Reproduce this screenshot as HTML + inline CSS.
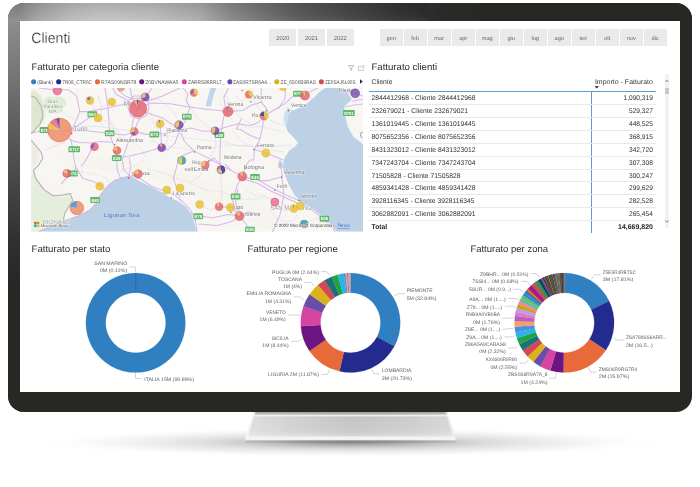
<!DOCTYPE html>
<html><head><meta charset="utf-8"><title>Clienti</title>
<style>
html,body{margin:0;padding:0;background:#fff;}
body{width:700px;height:487px;position:relative;overflow:hidden;font-family:"Liberation Sans",sans-serif;text-rendering:geometricPrecision;}
.abs{position:absolute;}
.t{position:absolute;white-space:nowrap;line-height:normal;}
svg text{font-family:"Liberation Sans",sans-serif;text-rendering:geometricPrecision;}
#bezel{position:absolute;left:7.5px;top:3px;width:684.7px;height:408.5px;border-radius:16px;background:#272724;overflow:hidden;}
#bezel .gl{position:absolute;left:0;top:0;width:14px;height:100%;
 background:linear-gradient(180deg,#8e8e8e 0px,#8e8e8e 17px,#7c7c7c 57px,#6a6a6a 97px,#545454 147px,#404040 197px,#303030 237px,#272724 280px);}
#bezel .gt{position:absolute;left:0;top:0;width:100%;height:19px;
 background:linear-gradient(90deg,#8e8e8e 0px,#8e8e8e 11px,#9a9a9a 20px,#a9a9a9 32px,#bcbdbc 62px,#c5c6c5 92px,#c0c1c0 142px,#adadad 192px,#8c8c8c 222px,#707070 262px,#5c5c5c 292px,#484846 342px,#353533 392px,#2a2a28 432px,#272724 472px);
}
#bezel .gv{position:absolute;left:0;top:0;width:420px;height:19px;background:linear-gradient(180deg,rgba(0,0,0,0.13) 0%,rgba(0,0,0,0.04) 60%,rgba(255,255,255,0.04) 100%);}
#screen{position:absolute;left:20px;top:21px;width:659.5px;height:370.5px;background:#fff;}
.btn{position:absolute;top:28.6px;height:17.3px;background:#eaeaea;}
.hl{position:absolute;height:0.6px;background:#e9e9e9;}
</style></head><body><div id="wrap" style="position:absolute;left:0;top:0;width:700px;height:487px;will-change:transform;">

<svg class="abs" style="left:0;top:405px" width="700" height="82" viewBox="0 405 700 82">
<defs>
<radialGradient id="sh" cx="0.5" cy="0.5" r="0.5"><stop offset="0" stop-color="#6a6a6a" stop-opacity="0.8"/><stop offset="0.2" stop-color="#808080" stop-opacity="0.58"/><stop offset="0.45" stop-color="#a0a0a0" stop-opacity="0.36"/><stop offset="0.75" stop-color="#c0c0c0" stop-opacity="0.16"/><stop offset="1" stop-color="#fff" stop-opacity="0"/></radialGradient>
<linearGradient id="nk" x1="0" x2="1" y1="0" y2="0"><stop offset="0" stop-color="#dedede"/><stop offset="0.2" stop-color="#d2d2d2"/><stop offset="0.5" stop-color="#c4c4c4"/><stop offset="0.8" stop-color="#cdcdcd"/><stop offset="1" stop-color="#d8d8d8"/></linearGradient>
<linearGradient id="nv" x1="0" x2="0" y1="0" y2="1"><stop offset="0" stop-color="#7a7a7a" stop-opacity="0.85"/><stop offset="0.12" stop-color="#a8a8a8" stop-opacity="0.5"/><stop offset="0.17" stop-color="#ffffff" stop-opacity="0.75"/><stop offset="0.24" stop-color="#ffffff" stop-opacity="0"/><stop offset="0.8" stop-color="#fff" stop-opacity="0.1"/><stop offset="1" stop-color="#fff" stop-opacity="0.35"/></linearGradient>
<linearGradient id="ud" x1="0" x2="1" y1="0" y2="0"><stop offset="0" stop-color="#bdbdbd"/><stop offset="0.3" stop-color="#949494"/><stop offset="0.5" stop-color="#868686"/><stop offset="0.7" stop-color="#949494"/><stop offset="1" stop-color="#bdbdbd"/></linearGradient>
</defs>
<ellipse cx="350" cy="442.5" rx="315" ry="15" fill="url(#sh)"/>
<path d="M254 411 L447 411 L455 436.6 L246 436.6Z" fill="url(#nk)"/>
<path d="M254 411 L447 411 L455 436.6 L246 436.6Z" fill="url(#nv)"/>
<path d="M254 411 L255.6 411 L248 436.6 L246 436.6Z" fill="#f6f6f6"/>
<path d="M447 411 L445.4 411 L453 436.6 L455 436.6Z" fill="#f0f0f0"/>
<rect x="245.4" y="440" width="210.2" height="3" fill="url(#ud)"/>
<rect x="245.4" y="436.4" width="210.2" height="3.9" fill="#f3f3f3"/>
</svg>
<div id="bezel"><div class="gl"></div><div class="gt"></div><div class="gv"></div></div>
<div id="screen"></div>
<div class="btn" style="left:269.0px;width:27.4px"></div>
<div class="btn" style="left:297.8px;width:27.4px"></div>
<div class="btn" style="left:326.6px;width:27.4px"></div>
<div class="btn" style="left:379.8px;width:22.8px"></div>
<div class="btn" style="left:403.8px;width:22.8px"></div>
<div class="btn" style="left:427.8px;width:22.8px"></div>
<div class="btn" style="left:451.8px;width:22.8px"></div>
<div class="btn" style="left:475.8px;width:22.8px"></div>
<div class="btn" style="left:499.8px;width:22.8px"></div>
<div class="btn" style="left:523.8px;width:22.8px"></div>
<div class="btn" style="left:547.8px;width:22.8px"></div>
<div class="btn" style="left:571.8px;width:22.8px"></div>
<div class="btn" style="left:595.8px;width:22.8px"></div>
<div class="btn" style="left:619.8px;width:22.8px"></div>
<div class="btn" style="left:643.8px;width:22.8px"></div>
<svg class="abs" style="left:345px;top:63px" width="22" height="10" viewBox="345 63 22 10">
<path d="M348.4 65.5 L353.8 65.5 L351.7 68 L351.7 70.4 L350.6 69.9 L350.6 68Z" fill="none" stroke="#959595" stroke-width="0.55"/>
<path d="M361 66.3 L358.4 66.3 L358.4 70.5 L363.5 70.5 L363.5 68.7 M361.9 65.9 L363.9 65.9 L363.9 67.9 M363.8 66 L361 68.6" fill="none" stroke="#a4a4a4" stroke-width="0.55"/>
</svg>
<svg class="abs" style="left:30px;top:77px" width="336" height="10" viewBox="30 77 336 10">
<circle cx="33.6" cy="81.7" r="2.55" fill="#2f7fc1"/>
<text x="37.30" y="83.70" font-size="5.3" fill="#555" textLength="15.70" lengthAdjust="spacingAndGlyphs">(Blank)</text>
<circle cx="58.65" cy="81.7" r="2.55" fill="#232b8e"/>
<text x="62.30" y="83.70" font-size="5.3" fill="#555" textLength="29.70" lengthAdjust="spacingAndGlyphs">7R08_CTR6C</text>
<circle cx="97.5" cy="81.7" r="2.55" fill="#e8693a"/>
<text x="101.00" y="83.70" font-size="5.3" fill="#555" textLength="35.40" lengthAdjust="spacingAndGlyphs">R7AS09NSR78</text>
<circle cx="141.7" cy="81.7" r="2.55" fill="#6b1583"/>
<text x="145.20" y="83.70" font-size="5.3" fill="#555" textLength="33.40" lengthAdjust="spacingAndGlyphs">Z0BVNAWAA5</text>
<circle cx="184.3" cy="81.7" r="2.55" fill="#d5449f"/>
<text x="188.00" y="83.70" font-size="5.3" fill="#555" textLength="36.40" lengthAdjust="spacingAndGlyphs">ZARRS86RRL7_</text>
<circle cx="229.9" cy="81.7" r="2.55" fill="#6a4da8"/>
<text x="233.10" y="83.70" font-size="5.3" fill="#555" textLength="38.00" lengthAdjust="spacingAndGlyphs">ZAS0R7SR6A4...</text>
<circle cx="276.8" cy="81.7" r="2.55" fill="#dab21a"/>
<text x="280.50" y="83.70" font-size="5.3" fill="#555" textLength="35.40" lengthAdjust="spacingAndGlyphs">ZE_6S00B9RAS</text>
<circle cx="321.4" cy="81.7" r="2.55" fill="#d64752"/>
<text x="324.90" y="83.70" font-size="5.3" fill="#555" textLength="30.70" lengthAdjust="spacingAndGlyphs">ZE0SAJ6L90S</text>
<path d="M360 79.2 L362.8 81.45 L360 83.7Z" fill="#2a2a2a"/>
</svg>
<svg class="abs" style="left:31px;top:88px" width="332" height="143.5" viewBox="31 88 332 143.5" font-family="Liberation Sans, sans-serif">
<defs><filter id="bl" x="-10%" y="-10%" width="120%" height="120%"><feGaussianBlur stdDeviation="1.2"/></filter></defs>
<rect x="31" y="88" width="332" height="143.5" fill="#f8f6f3"/>
<g filter="url(#bl)">
<path d="M31 92 L34 90 L40 95 L45 108 L44 120 L38 128 L31 133Z" fill="#dde7d0"/>
<path d="M31 170 L34 170 L36 178 L44 190 L53 196 L70 193.5 L72.5 200 L68 207 L64.5 213 L63 221 L50 226 L37 231.5 L31 231.5Z" fill="#e5eddc"/>
<path d="M176 172 L184 176 L194 182 L201 189 L196 192 L186 186 L178 180Z" fill="#e4eed8"/>
<path d="M257 202 L263 205 L268 213 L268 219 L262 215 L258 209Z" fill="#dce9cc"/>
<path d="M60 150 L90 156 L120 160 L150 168 L172 170 L200 178 L228 190 L255 198 L275 214 L290 226 L270 231.5 L250 222 L226 212 L200 200 L176 186 L150 178 L120 172 L96 170 L70 164Z" fill="#f5f4ef"/>
<path d="M31 140 L40 150 L38 162 L33 168 L31 168Z" fill="#ecebe3"/>
</g>
<path d="M44.5 99 L48 96.5 L55 96.8 L61 96.5 L65.5 99.5 L66.5 104 L63.5 108 L62 112 L56 114 L49.5 113.2 L45.5 109 L43.8 104Z" fill="#e2ecd6"/>
<path d="M37 231.5 L51.4 225.6 L67.2 219.3 L78.2 215.4 L89.2 209.9 L95.4 203.6 L100.2 194.2 L106.5 186.3 L114.3 180 L122.2 176.9 L131.6 176.5 L140.4 181.6 L151.4 187.1 L162.4 192.6 L170.3 198.1 L178.2 201.2 L186 206.7 L191.5 213.8 L193.9 220.9 L196.2 231.5Z" fill="#bcd0e6"/>
<path d="M363 88 L325.3 88 L319.7 91.8 L314 97.4 L306.5 104 L299 108 L293.3 110.6 L288.5 113 L287 118 L285.7 125.7 L287.6 131.4 L293.3 137 L298 142.7 L295.2 146.5 L289.5 150.3 L285.7 155.9 L283.8 160 L282.9 167.4 L285.7 176.9 L289.5 186.3 L295.1 195.7 L300.8 201.4 L310.2 207 L319.6 214.6 L329 222.1 L336.6 231.5 L363 231.5Z" fill="#bcd0e6"/>
<path d="M287.6 107 L293.3 110.6 L289 114 L287.5 120 L286.5 126 L283.5 122 L284 114Z" fill="#cfe0ee"/>
<path d="M363 88 L342.5 88 L347 92 L351.8 99.3 L348 103 L344.2 106.9 L345.2 116.3 L348 127.6 L353.6 137 L361.2 142.7 L363 145Z" fill="#f8f6f3"/>
<path d="M210.5 88 L216.5 88 L214.2 94 L212.6 99 L211 106.5 L206.5 106.5 L205.6 104.5 L207.6 99 L209 93Z" fill="#c3d6e9"/>
<ellipse cx="280.4" cy="165.2" rx="2.4" ry="3.4" fill="#bcd0e6"/>
<g fill="none" stroke="#cfe0f0" stroke-width="0.6"><path d="M70 127 L84 126 L98 126.5 L112 128 L126 130 L140 132 L156 136 L170 136 L186 138 L204 140 L222 142 L240 146 L258 146 L276 146 L292 145"/><path d="M81.3 162.7 L82.1 173.7"/><path d="M226 96 L230 104 L238 116 L250 124 L266 128 L284 132"/><path d="M98 96 L102 108 L100 118"/><path d="M150 112 L156 124 L160 134"/></g>
<g fill="none" stroke="#b0b0b0" stroke-width="1.05" stroke-linejoin="round"><path d="M31 96 L36 98 L41 106 L43 116 L40 124 L34 131 L31 133"/><path d="M42.8 158 L38.1 165.9 L33.4 169.8 L35.7 178.4 L43.6 189.4 L53 195.7 L62.4 194.9 L70.3 193.4 L72.7 200.4 L68.7 206.7 L64.8 213 L63.2 220.9"/><path d="M31 140 L36 146 L41 152 L42.8 158"/></g>
<g fill="none" stroke="#c4c4c4" stroke-width="0.45" stroke-dasharray="1.2 0.9"><path d="M110 118 L113 128 L120 138 L131 142 L140 148 L145 156 L140 164 L128 168 L118 172"/><path d="M72 166 L82 172 L96 174 L106 178 L110 184"/><path d="M150 140 L168 146 L188 150 L208 149 L228 145 L250 146 L272 150 L284 152"/><path d="M146 168 L160 172 L176 178 L192 184 L206 190 L222 192 L236 198 L250 200 L262 198 L274 198 L288 206"/><path d="M218 96 L224 110 L234 122 L248 128 L266 126"/><path d="M270 210 L276 218 L286 222 L294 220 L298 214"/></g>
<g fill="none" stroke="#d5b9e9" stroke-width="1.05" stroke-linejoin="round" stroke-linecap="round">
<path d="M38.9 88 L51.4 89.6 L68.7 89.9 L76.6 95.9 L78.2 103.7 L79.7 111.6 L76.6 119.4 L72.2 128.9"/>
<path d="M79.7 111.6 L87.6 111.6 L97 110 L106.5 108.4 L119 105.3 L131.6 103.7 L138 108"/>
<path d="M89.2 117.9 L79.7 124.2 L72.2 129.7 L60 131"/>
<path d="M92.3 114.3 L89.2 117.9"/>
<path d="M104.9 88 L106.5 97.4 L108 108.4 L108.8 119.4 L109.6 133.6 L112.8 143 L115.1 148.5 L116.7 157.2 L116.7 161 L117.5 170.6 L120.6 178.4"/>
<path d="M70.3 139.9 L78.2 142.2 L90.7 143 L100.2 141.5 L112.8 142.2"/>
<path d="M60 131 L71.1 139.9 L72.7 149.3 L74.2 160 L75.8 167.4 L73.4 173.7 L67.2 176.9 L61.6 183.9"/>
<path d="M31 133.6 L38.9 131.2 L44.4 130.1 L60 131"/>
<path d="M92.3 147 L89.2 154 L86 160 L82 166"/>
<path d="M75.8 167.4 L82.9 178.4 L93.9 181.6 L104.9 189.4"/>
<path d="M60 131 L85 130.5 L109.6 133.6 L125 135 L134 132"/>
<path d="M112.8 88 L115.9 94.3 L125.3 99 L138 108"/>
<path d="M119 91.1 L125.3 95.9 L132 99 L140 98 L147 101"/>
<path d="M138 108 L133.2 119.4 L131.6 128.9 L134.2 131.2 L128.5 141.5 L125.3 150.9 L122.2 160 L124 170 L130 176"/>
<path d="M138 108 L151.4 102.9 L170.3 103.7 L189.2 106.9 L206.5 109.2 L228 111.6 L242.3 110.6 L251.8 105 L261.2 102.2 L266.8 108.8 L264 116"/>
<path d="M146.7 101.4 L162.4 95.9 L176.6 89.6 L180 88"/>
<path d="M138 108 L148.3 113.2 L162.4 117.9 L171.9 124.2 L179.7 130.5 L184.5 141.5 L193.9 150.9 L209.6 158.8 L221 165 L231.6 170.6 L242.3 176.5"/>
<path d="M138 108 L132 98 L130 88"/>
<path d="M138 108 L146 97 L152 88"/>
<path d="M129 100 L134 96 L142 96 L148 101 L149 109 L146 116 L139 119 L131 116 L128 108Z"/>
<path d="M140.4 116.3 L135.7 127.3 L134.2 131.2"/>
<path d="M182.9 88 L188 94 L186 100.6 L190 106.9 L186 119.4 L181.3 127.3 L176.6 138.3 L175 143"/>
<path d="M134 132 L146.7 134.4 L154.3 134.4 L165.6 133.6 L178.2 130.5 L190.7 128.1 L203.3 131.2 L215.1 130.8 L225.3 127.3 L238.5 123.8 L249.9 125.7 L259 122 L264 116"/>
<path d="M228 111.6 L223.8 116.3 L220.6 135.2 L219.8 160 L221 169.8"/>
<path d="M228.5 88 L223.8 97.4 L225.3 106.9 L228 111.6"/>
<path d="M241 119.4 L236.3 128.9 L240.4 129.5 L249.9 135.2 L259.3 138.9"/>
<path d="M264 116 L276.3 108.8 L285.7 103.1 L291.4 97.4 L298 94 L310.2 91.8 L317.8 88"/>
<path d="M261.2 88 L261.2 102.2"/>
<path d="M264 116 L262.1 129.5 L259.3 140.8 L254.6 149.3 L253.6 160 L249.9 160 L246.1 165.5 L242.3 176.5"/>
<path d="M254.6 149.3 L265 153.1 L278.2 157.8 L283 160"/>
<path d="M285.7 88 L284.8 99.3 L278.2 108.8"/>
<path d="M351.8 101.2 L363 99.3"/>
<path d="M346 106.9 L353.6 105 L363 104"/>
<path d="M347 92 L355 93.5 L363 96"/>
<path d="M242.3 176.5 L259.3 180.6 L272.5 188.2 L287.6 195.7 L298.9 200.5 L310.2 208.9 L321.5 217.4 L332.8 227.8 L335 231.5"/>
<path d="M242.3 178.5 L258 183.5 L271 191 L286 198 L297 203"/>
<path d="M259.3 180.6 L268.7 180.6 L281 176.9 L282.3 175.9 L280 160"/>
<path d="M281.9 176.9 L282.9 186.3 L283.8 195.7 L281.9 205.2 L280 214.6 L276 224 L272.5 231.5"/>
<path d="M242.3 176.5 L236.7 186.3 L232.9 201.4 L234.8 210.8 L239.5 216"/>
<path d="M225.3 164.3 L231.6 170.6"/>
<path d="M205 165 L214 158 L221 165"/>
<path d="M198 216 L212.8 217.7 L228.5 214.6 L239.5 216"/>
<path d="M198.6 224 L217.5 225.6 L233 220.9 L239.5 216"/>
<path d="M239.5 216 L246 224 L250 231.5"/>
<path d="M239.5 216 L248 212 L258 214"/>
<path d="M237.9 189.4 L235.5 202 L239.5 216"/>
<path d="M219 206.7 L230.3 207.5 L239.5 210"/>
<path d="M138 177 L151.4 186.3 L162.4 190.2 L173.4 194.2 L182.9 202 L190.7 209.9 L195.5 220.9 L197 231.5"/>
<path d="M138 177 L130 176 L122 178 L114 181 L107 187 L101 195 L96 204 L90 210 L79 216 L67 220 L52 226 L40 231"/>
<path d="M178.2 158 L176.6 167.4 L173.4 178.4 L176.6 187.9 L179.7 197.3"/>
<path d="M193.9 150.9 L186 154 L178.2 158"/>
<path d="M129.3 158 L130.8 167.4 L128.5 176.9"/>
<path d="M161.5 147.5 L168 150 L175 143"/>
<path d="M116.7 157.2 L130 156 L146 152 L161.5 147.5"/>
<path d="M160 124 L161 136 L161.5 147.5"/>
</g>
<g fill="none" stroke="#e4d2f1" stroke-width="0.6" stroke-linejoin="round"><path d="M98 118 L112 124 L122 136"/><path d="M145 97 L160 100 L172 110 L180 124"/><path d="M166 128 L168 140 L161 148"/><path d="M215 131 L216 146 L210 158"/><path d="M205 165 L200 176 L190 182"/><path d="M266 153 L276 158 L283 165"/><path d="M249 95 L256 104 L264 115"/><path d="M111 102 L100 108 L92 116"/><path d="M274 202 L284 212 L294 208 L300 207"/><path d="M219 207 L222 196 L221 182 L221 169"/><path d="M86 96 L92 104 L98 118 L104 128"/><path d="M60 110 L68 116 L76 120"/><path d="M44 150 L56 146 L66 142"/><path d="M150 118 L156 128 L160 124"/><path d="M190 107 L196 116 L204 124 L215 131"/><path d="M236 96 L242 102 L249 95 L254 90"/><path d="M232 130 L240 140 L250 146 L254.6 149.3"/><path d="M270 120 L278 124 L286 126"/><path d="M300 98 L306 100 L312 98"/><path d="M200 204 L210 210 L219 207"/><path d="M246 190 L256 196 L266 196 L274.5 202"/><path d="M304 224 L312 220 L320 217"/></g>
<text x="52.80" y="103.00" font-size="4.8" fill="#6f9a6f" text-anchor="middle" stroke="#fff" stroke-width="0.8" paint-order="stroke" stroke-opacity="0.75" textLength="10.50" lengthAdjust="spacingAndGlyphs">Gran</text>
<text x="52.80" y="108.00" font-size="4.8" fill="#6f9a6f" text-anchor="middle" stroke="#fff" stroke-width="0.8" paint-order="stroke" stroke-opacity="0.75" textLength="18.50" lengthAdjust="spacingAndGlyphs">Paradiso</text>
<text x="52.80" y="113.00" font-size="4.8" fill="#6f9a6f" text-anchor="middle" stroke="#fff" stroke-width="0.8" paint-order="stroke" stroke-opacity="0.75" textLength="8.40" lengthAdjust="spacingAndGlyphs">N.P.</text>
<text x="73.80" y="131.40" font-size="6.8" fill="#8c8c8c" text-anchor="start" stroke="#fff" stroke-width="0.8" paint-order="stroke" stroke-opacity="0.75" textLength="13.80" lengthAdjust="spacingAndGlyphs">Turin</text>
<text x="116.00" y="141.60" font-size="5.4" fill="#757575" text-anchor="start" stroke="#fff" stroke-width="0.8" paint-order="stroke" stroke-opacity="0.75" textLength="27.00" lengthAdjust="spacingAndGlyphs">Alessandria</text>
<text x="167.20" y="132.00" font-size="5.6" fill="#757575" text-anchor="start" stroke="#fff" stroke-width="0.8" paint-order="stroke" stroke-opacity="0.75" textLength="19.60" lengthAdjust="spacingAndGlyphs">Piacenza</text>
<text x="123.80" y="105.60" font-size="7" fill="#8c8c8c" text-anchor="start" stroke="#fff" stroke-width="0.8" paint-order="stroke" stroke-opacity="0.75" textLength="6.80" lengthAdjust="spacingAndGlyphs">Mi</text>
<text x="227.20" y="105.80" font-size="5.6" fill="#757575" text-anchor="start" stroke="#fff" stroke-width="0.8" paint-order="stroke" stroke-opacity="0.75" textLength="16.00" lengthAdjust="spacingAndGlyphs">Verona</text>
<text x="253.30" y="99.30" font-size="5.6" fill="#757575" text-anchor="start" stroke="#fff" stroke-width="0.8" paint-order="stroke" stroke-opacity="0.75" textLength="18.30" lengthAdjust="spacingAndGlyphs">Vicenza</text>
<text x="291.00" y="107.40" font-size="5.6" fill="#757575" text-anchor="start" stroke="#fff" stroke-width="0.8" paint-order="stroke" stroke-opacity="0.75" textLength="15.50" lengthAdjust="spacingAndGlyphs">Venice</text>
<text x="338.20" y="92.20" font-size="5.6" fill="#757575" text-anchor="start" stroke="#fff" stroke-width="0.8" paint-order="stroke" stroke-opacity="0.75" textLength="15.00" lengthAdjust="spacingAndGlyphs">Trieste</text>
<text x="252.10" y="117.20" font-size="5.6" fill="#757575" text-anchor="start" stroke="#fff" stroke-width="0.8" paint-order="stroke" stroke-opacity="0.75" textLength="6.00" lengthAdjust="spacingAndGlyphs">Pa</text>
<text x="196.70" y="148.50" font-size="5.6" fill="#757575" text-anchor="start" stroke="#fff" stroke-width="0.8" paint-order="stroke" stroke-opacity="0.75" textLength="14.80" lengthAdjust="spacingAndGlyphs">Parma</text>
<text x="224.00" y="158.60" font-size="5.6" fill="#757575" text-anchor="start" stroke="#fff" stroke-width="0.8" paint-order="stroke" stroke-opacity="0.75" textLength="17.50" lengthAdjust="spacingAndGlyphs">Modena</text>
<text x="257.00" y="146.50" font-size="5.6" fill="#757575" text-anchor="start" stroke="#fff" stroke-width="0.8" paint-order="stroke" stroke-opacity="0.75" textLength="17.00" lengthAdjust="spacingAndGlyphs">Ferrara</text>
<text x="192.00" y="164.30" font-size="5.2" fill="#757575" text-anchor="start" stroke="#fff" stroke-width="0.8" paint-order="stroke" stroke-opacity="0.75" textLength="8.50" lengthAdjust="spacingAndGlyphs">Reg</text>
<text x="184.50" y="170.60" font-size="5.2" fill="#757575" text-anchor="start" stroke="#fff" stroke-width="0.8" paint-order="stroke" stroke-opacity="0.75" textLength="23.90" lengthAdjust="spacingAndGlyphs">nell'Emilia</text>
<text x="243.80" y="168.90" font-size="5.6" fill="#757575" text-anchor="start" stroke="#fff" stroke-width="0.8" paint-order="stroke" stroke-opacity="0.75" textLength="20.20" lengthAdjust="spacingAndGlyphs">Bologna</text>
<text x="284.20" y="174.00" font-size="5.6" fill="#757575" text-anchor="start" stroke="#fff" stroke-width="0.8" paint-order="stroke" stroke-opacity="0.75" textLength="20.00" lengthAdjust="spacingAndGlyphs">Ravenna</text>
<text x="276.70" y="187.80" font-size="5.6" fill="#757575" text-anchor="start" stroke="#fff" stroke-width="0.8" paint-order="stroke" stroke-opacity="0.75" textLength="10.30" lengthAdjust="spacingAndGlyphs">Forlì</text>
<text x="301.20" y="198.00" font-size="5.6" fill="#757575" text-anchor="start" stroke="#fff" stroke-width="0.8" paint-order="stroke" stroke-opacity="0.75" textLength="14.70" lengthAdjust="spacingAndGlyphs">Rimini</text>
<text x="270.20" y="210.00" font-size="6.4" fill="#9a9a9a" text-anchor="start" stroke="#fff" stroke-width="0.8" paint-order="stroke" stroke-opacity="0.75" textLength="19.00" lengthAdjust="spacingAndGlyphs">SAN M</text>
<text x="303.00" y="210.00" font-size="6.4" fill="#9a9a9a" text-anchor="start" stroke="#fff" stroke-width="0.8" paint-order="stroke" stroke-opacity="0.75" textLength="9.00" lengthAdjust="spacingAndGlyphs">NO</text>
<text x="233.80" y="209.40" font-size="5.4" fill="#757575" text-anchor="start" stroke="#fff" stroke-width="0.8" paint-order="stroke" stroke-opacity="0.75" textLength="9.50" lengthAdjust="spacingAndGlyphs">rato</text>
<text x="245.20" y="216.20" font-size="5.4" fill="#757575" text-anchor="start" stroke="#fff" stroke-width="0.8" paint-order="stroke" stroke-opacity="0.75" textLength="15.00" lengthAdjust="spacingAndGlyphs">orence</text>
<text x="173.10" y="194.50" font-size="5" fill="#757575" text-anchor="start" stroke="#fff" stroke-width="0.8" paint-order="stroke" stroke-opacity="0.75" textLength="21.60" lengthAdjust="spacingAndGlyphs">La Spezia</text>
<text x="131.50" y="175.60" font-size="5.8" fill="#757575" text-anchor="start" stroke="#fff" stroke-width="0.8" paint-order="stroke" stroke-opacity="0.75" textLength="4.20" lengthAdjust="spacingAndGlyphs">G</text>
<text x="142.80" y="175.40" font-size="5.8" fill="#757575" text-anchor="start" stroke="#fff" stroke-width="0.8" paint-order="stroke" stroke-opacity="0.75" textLength="7.00" lengthAdjust="spacingAndGlyphs">oa</text>
<text x="42.80" y="224.20" font-size="6.2" fill="#a4a4a4" text-anchor="start" stroke="#fff" stroke-width="0.8" paint-order="stroke" stroke-opacity="0.75" textLength="29.40" lengthAdjust="spacingAndGlyphs">MONACO</text>
<text x="104.1" y="217.4" font-size="5.8" fill="#5a7cbd" textLength="35.4" lengthAdjust="spacingAndGlyphs">Ligurian Sea</text>
<text x="359.50" y="138.00" font-size="9" fill="#9a9a9a" text-anchor="start" stroke="#fff" stroke-width="0.8" paint-order="stroke" stroke-opacity="0.75">C</text>
<rect x="114.2" y="143.9" width="1.2" height="1.2" fill="#6a6a6a"/>
<rect x="164.4" y="134.6" width="1.2" height="1.2" fill="#6a6a6a"/>
<rect x="250.2" y="101.2" width="1.2" height="1.2" fill="#6a6a6a"/>
<rect x="266.4" y="110.2" width="1.2" height="1.2" fill="#6a6a6a"/>
<rect x="194.0" y="151.4" width="1.2" height="1.2" fill="#6a6a6a"/>
<rect x="253.2" y="149.0" width="1.2" height="1.2" fill="#6a6a6a"/>
<rect x="281.0" y="176.6" width="1.2" height="1.2" fill="#6a6a6a"/>
<rect x="274.4" y="189.6" width="1.2" height="1.2" fill="#6a6a6a"/>
<rect x="298.6" y="199.8" width="1.2" height="1.2" fill="#6a6a6a"/>
<rect x="170.6" y="197.4" width="1.2" height="1.2" fill="#6a6a6a"/>
<rect x="230.2" y="211.8" width="1.2" height="1.2" fill="#6a6a6a"/>
<rect x="208.2" y="160.2" width="1.2" height="1.2" fill="#6a6a6a"/>
<rect x="241.6" y="89.9" width="1.2" height="1.2" fill="#6a6a6a"/>
<circle cx="128.6" cy="178" r="0.8" fill="#e03030"/>
<circle cx="288.4" cy="110.6" r="0.8" fill="#e03030"/>
<circle cx="71.6" cy="133.4" r="0.8" fill="#e03030"/>
<rect x="87.50" y="111.30" width="9.60" height="6" rx="0.9" fill="#62b868"/><text x="92.30" y="115.90" font-size="4.4" font-weight="bold" fill="#fff" text-anchor="middle" textLength="7.40" lengthAdjust="spacingAndGlyphs">E64</text>
<rect x="182.00" y="113.80" width="9.60" height="6" rx="0.9" fill="#62b868"/><text x="186.80" y="118.40" font-size="4.4" font-weight="bold" fill="#fff" text-anchor="middle" textLength="7.40" lengthAdjust="spacingAndGlyphs">E70</text>
<rect x="104.80" y="130.20" width="9.60" height="6" rx="0.9" fill="#62b868"/><text x="109.60" y="134.80" font-size="4.4" font-weight="bold" fill="#fff" text-anchor="middle" textLength="7.40" lengthAdjust="spacingAndGlyphs">E25</text>
<rect x="149.50" y="131.40" width="9.60" height="6" rx="0.9" fill="#62b868"/><text x="154.30" y="136.00" font-size="4.4" font-weight="bold" fill="#fff" text-anchor="middle" textLength="7.40" lengthAdjust="spacingAndGlyphs">E70</text>
<rect x="68.40" y="146.20" width="11.60" height="6" rx="0.9" fill="#62b868"/><text x="74.20" y="150.80" font-size="4.4" font-weight="bold" fill="#fff" text-anchor="middle" textLength="9.40" lengthAdjust="spacingAndGlyphs">E717</text>
<rect x="39.60" y="127.10" width="9.60" height="6" rx="0.9" fill="#62b868"/><text x="44.40" y="131.70" font-size="4.4" font-weight="bold" fill="#fff" text-anchor="middle" textLength="7.40" lengthAdjust="spacingAndGlyphs">E70</text>
<rect x="111.90" y="155.00" width="9.60" height="6" rx="0.9" fill="#62b868"/><text x="116.70" y="159.60" font-size="4.4" font-weight="bold" fill="#fff" text-anchor="middle" textLength="7.40" lengthAdjust="spacingAndGlyphs">E25</text>
<rect x="68.10" y="170.40" width="9.60" height="6" rx="0.9" fill="#62b868"/><text x="72.90" y="175.00" font-size="4.4" font-weight="bold" fill="#fff" text-anchor="middle" textLength="7.40" lengthAdjust="spacingAndGlyphs">E74</text>
<rect x="90.30" y="197.10" width="9.60" height="6" rx="0.9" fill="#62b868"/><text x="95.10" y="201.70" font-size="4.4" font-weight="bold" fill="#fff" text-anchor="middle" textLength="7.40" lengthAdjust="spacingAndGlyphs">E80</text>
<rect x="193.50" y="213.20" width="9.60" height="6" rx="0.9" fill="#62b868"/><text x="198.30" y="217.80" font-size="4.4" font-weight="bold" fill="#fff" text-anchor="middle" textLength="7.40" lengthAdjust="spacingAndGlyphs">E76</text>
<rect x="214.60" y="131.90" width="9.60" height="6" rx="0.9" fill="#62b868"/><text x="219.40" y="136.50" font-size="4.4" font-weight="bold" fill="#fff" text-anchor="middle" textLength="7.40" lengthAdjust="spacingAndGlyphs">E45</text>
<rect x="293.20" y="90.70" width="9.60" height="6" rx="0.9" fill="#62b868"/><text x="298.00" y="95.30" font-size="4.4" font-weight="bold" fill="#fff" text-anchor="middle" textLength="7.40" lengthAdjust="spacingAndGlyphs">E70</text>
<rect x="343.10" y="110.10" width="11.60" height="6" rx="0.9" fill="#62b868"/><text x="348.90" y="114.70" font-size="4.4" font-weight="bold" fill="#fff" text-anchor="middle" textLength="9.40" lengthAdjust="spacingAndGlyphs">E751</text>
<rect x="250.20" y="173.90" width="9.60" height="6" rx="0.9" fill="#62b868"/><text x="255.00" y="178.50" font-size="4.4" font-weight="bold" fill="#fff" text-anchor="middle" textLength="7.40" lengthAdjust="spacingAndGlyphs">E45</text>
<rect x="230.80" y="193.60" width="9.60" height="6" rx="0.9" fill="#62b868"/><text x="235.60" y="198.20" font-size="4.4" font-weight="bold" fill="#fff" text-anchor="middle" textLength="7.40" lengthAdjust="spacingAndGlyphs">E35</text>
<rect x="319.60" y="215.80" width="9.60" height="6" rx="0.9" fill="#62b868"/><text x="324.40" y="220.40" font-size="4.4" font-weight="bold" fill="#fff" text-anchor="middle" textLength="7.40" lengthAdjust="spacingAndGlyphs">E55</text>
<rect x="245.10" y="226.70" width="9.60" height="6" rx="0.9" fill="#62b868"/><text x="249.90" y="231.30" font-size="4.4" font-weight="bold" fill="#fff" text-anchor="middle" textLength="7.40" lengthAdjust="spacingAndGlyphs">E35</text>
<g opacity="0.88"><path d="M59.5 130L59.50 118.00A12 12 0 1 1 47.59 128.50Z" fill="#f0916e"/><path d="M59.5 130L47.59 128.50A12 12 0 0 1 49.79 122.95Z" fill="#e6bf2e"/><path d="M59.5 130L49.79 122.95A12 12 0 0 1 53.07 119.87Z" fill="#e8688e"/><path d="M59.5 130L53.07 119.87A12 12 0 0 1 55.79 118.59Z" fill="#e6606c"/><path d="M59.5 130L55.79 118.59A12 12 0 0 1 57.62 118.15Z" fill="#7a3aa8"/><path d="M59.5 130L57.62 118.15A12 12 0 0 1 59.50 118.00Z" fill="#232b8e"/></g><circle cx="59.5" cy="130" r="12" fill="none" stroke="#e0603c" stroke-width="0.5" opacity="0.9"/>
<g opacity="0.8"><path d="M138.1 108.5L138.10 99.90A8.6 8.6 0 1 1 134.44 100.72Z" fill="#e6606c"/><path d="M138.1 108.5L134.44 100.72A8.6 8.6 0 0 1 136.49 100.05Z" fill="#e6bf2e"/><path d="M138.1 108.5L136.49 100.05A8.6 8.6 0 0 1 138.10 99.90Z" fill="#333"/></g><circle cx="138.1" cy="108.5" r="8.6" fill="none" stroke="#d84858" stroke-width="0.5" opacity="0.9"/>
<g opacity="0.8"><circle cx="57.3" cy="90.6" r="4.3" fill="#e8688e"/></g><circle cx="57.3" cy="90.6" r="4.3" fill="none" stroke="#d84868" stroke-width="0.5" opacity="0.9"/>
<g opacity="0.8"><path d="M90 100.5L90.00 96.50A4 4 0 1 1 86.38 98.80Z" fill="#e6bf2e"/><path d="M90 100.5L86.38 98.80A4 4 0 0 1 90.00 96.50Z" fill="#7a3aa8"/></g><circle cx="90" cy="100.5" r="4" fill="none" stroke="#e6bf2e" stroke-width="0.5" opacity="0.9"/>
<g opacity="0.8"><circle cx="111.8" cy="102" r="4" fill="#e6bf2e"/></g><circle cx="111.8" cy="102" r="4" fill="none" stroke="#e6bf2e" stroke-width="0.5" opacity="0.9"/>
<g opacity="0.8"><path d="M145.2 97L145.20 93.00A4 4 0 1 1 141.40 98.24Z" fill="#7a3aa8"/><path d="M145.2 97L141.40 98.24A4 4 0 0 1 145.20 93.00Z" fill="#e6bf2e"/></g><circle cx="145.2" cy="97" r="4" fill="none" stroke="#7a3aa8" stroke-width="0.5" opacity="0.9"/>
<g opacity="0.8"><circle cx="98" cy="118" r="4" fill="#e6bf2e"/></g><circle cx="98" cy="118" r="4" fill="none" stroke="#e6bf2e" stroke-width="0.5" opacity="0.9"/>
<g opacity="0.8"><path d="M160.1 123.8L160.10 119.80A4 4 0 1 1 158.17 120.29Z" fill="#e6bf2e"/><path d="M160.1 123.8L158.17 120.29A4 4 0 0 1 160.10 119.80Z" fill="#7a3aa8"/></g><circle cx="160.1" cy="123.8" r="4" fill="none" stroke="#e6bf2e" stroke-width="0.5" opacity="0.9"/>
<g opacity="0.8"><path d="M179 124.9L179.00 120.70A4.2 4.2 0 1 1 176.53 128.30Z" fill="#7a3aa8"/><path d="M179 124.9L176.53 128.30A4.2 4.2 0 0 1 179.00 120.70Z" fill="#e6bf2e"/></g><circle cx="179" cy="124.9" r="4.2" fill="none" stroke="#7a3aa8" stroke-width="0.5" opacity="0.9"/>
<g opacity="0.8"><path d="M134.2 131.6L134.20 127.60A4 4 0 0 1 136.55 134.84Z" fill="#e6606c"/><path d="M134.2 131.6L136.55 134.84A4 4 0 0 1 130.40 132.84Z" fill="#7a3aa8"/><path d="M134.2 131.6L130.40 132.84A4 4 0 0 1 134.20 127.60Z" fill="#e6bf2e"/></g><circle cx="134.2" cy="131.6" r="4" fill="none" stroke="#e6606c" stroke-width="0.5" opacity="0.9"/>
<g opacity="0.8"><path d="M94.5 146.8L94.50 142.80A4 4 0 1 1 91.26 149.15Z" fill="#e6606c"/><path d="M94.5 146.8L91.26 149.15A4 4 0 0 1 94.50 142.80Z" fill="#7a3aa8"/></g><circle cx="94.5" cy="146.8" r="4" fill="none" stroke="#e6606c" stroke-width="0.5" opacity="0.9"/>
<g opacity="0.8"><path d="M117 150.5L117.00 146.50A4 4 0 1 1 113.20 149.26Z" fill="#e6606c"/><path d="M117 150.5L113.20 149.26A4 4 0 0 1 117.00 146.50Z" fill="#e6bf2e"/></g><circle cx="117" cy="150.5" r="4" fill="none" stroke="#e6606c" stroke-width="0.5" opacity="0.9"/>
<g opacity="0.8"><path d="M161.7 147.7L161.70 143.70A4 4 0 1 1 159.77 144.19Z" fill="#7a3aa8"/><path d="M161.7 147.7L159.77 144.19A4 4 0 0 1 161.70 143.70Z" fill="#e6bf2e"/></g><circle cx="161.7" cy="147.7" r="4" fill="none" stroke="#7a3aa8" stroke-width="0.5" opacity="0.9"/>
<g opacity="0.8"><path d="M181.8 160.4L181.80 156.40A4 4 0 0 1 181.80 164.40Z" fill="#2f97a0"/><path d="M181.8 160.4L181.80 164.40A4 4 0 0 1 181.80 156.40Z" fill="#e6bf2e"/></g><circle cx="181.8" cy="160.4" r="4" fill="none" stroke="#2f97a0" stroke-width="0.5" opacity="0.9"/>
<g opacity="0.8"><circle cx="121" cy="87.6" r="3.6" fill="#f0916e"/></g><circle cx="121" cy="87.6" r="3.6" fill="none" stroke="#f0916e" stroke-width="0.5" opacity="0.9"/>
<g opacity="0.8"><path d="M193.9 92.7L193.90 88.70A4 4 0 0 1 197.14 95.05Z" fill="#e6bf2e"/><path d="M193.9 92.7L197.14 95.05A4 4 0 0 1 190.66 95.05Z" fill="#e6606c"/><path d="M193.9 92.7L190.66 95.05A4 4 0 0 1 193.90 88.70Z" fill="#7a3aa8"/></g><circle cx="193.9" cy="92.7" r="4" fill="none" stroke="#e6bf2e" stroke-width="0.5" opacity="0.9"/>
<g opacity="0.8"><path d="M66.8 173.4L66.80 169.40A4 4 0 1 1 63.00 172.16Z" fill="#e6606c"/><path d="M66.8 173.4L63.00 172.16A4 4 0 0 1 66.80 169.40Z" fill="#e6bf2e"/></g><circle cx="66.8" cy="173.4" r="4" fill="none" stroke="#c03848" stroke-width="0.5" opacity="0.9"/>
<g opacity="0.8"><circle cx="99.7" cy="186.3" r="4" fill="#e6bf2e"/></g><circle cx="99.7" cy="186.3" r="4" fill="none" stroke="#e6bf2e" stroke-width="0.5" opacity="0.9"/>
<g opacity="0.8"><path d="M138.1 174L138.10 169.70A4.3 4.3 0 1 1 134.01 172.67Z" fill="#e6606c"/><path d="M138.1 174L134.01 172.67A4.3 4.3 0 0 1 138.10 169.70Z" fill="#e6bf2e"/></g><circle cx="138.1" cy="174" r="4.3" fill="none" stroke="#e6606c" stroke-width="0.5" opacity="0.9"/>
<g opacity="0.88"><path d="M76.9 208L76.90 201.20A6.8 6.8 0 1 1 70.22 206.73Z" fill="#f0916e"/><path d="M76.9 208L70.22 206.73A6.8 6.8 0 0 1 76.90 201.20Z" fill="#4a90e0"/></g><circle cx="76.9" cy="208" r="6.8" fill="none" stroke="#e0603c" stroke-width="0.5" opacity="0.9"/>
<g opacity="0.8"><circle cx="166.8" cy="189.9" r="4" fill="#e6bf2e"/></g><circle cx="166.8" cy="189.9" r="4" fill="none" stroke="#e6bf2e" stroke-width="0.5" opacity="0.9"/>
<g opacity="0.8"><circle cx="180" cy="187.9" r="4" fill="#e6bf2e"/></g><circle cx="180" cy="187.9" r="4" fill="none" stroke="#e6bf2e" stroke-width="0.5" opacity="0.9"/>
<g opacity="0.8"><circle cx="199.7" cy="204.4" r="4" fill="#e6bf2e"/></g><circle cx="199.7" cy="204.4" r="4" fill="none" stroke="#e6bf2e" stroke-width="0.5" opacity="0.9"/>
<g opacity="0.8"><path d="M248.9 94.6L248.90 90.60A4 4 0 0 1 252.14 96.95Z" fill="#e6bf2e"/><path d="M248.9 94.6L252.14 96.95A4 4 0 1 1 248.90 90.60Z" fill="#e6606c"/></g><circle cx="248.9" cy="94.6" r="4" fill="none" stroke="#e6bf2e" stroke-width="0.5" opacity="0.9"/>
<g opacity="0.8"><path d="M305 95.5L305.00 91.00A4.5 4.5 0 1 1 302.35 91.86Z" fill="#e6606c"/><path d="M305 95.5L302.35 91.86A4.5 4.5 0 0 1 305.00 91.00Z" fill="#e6bf2e"/></g><circle cx="305" cy="95.5" r="4.5" fill="none" stroke="#d84858" stroke-width="0.5" opacity="0.9"/>
<g opacity="0.8"><circle cx="282.9" cy="87.4" r="3.4" fill="#e6bf2e"/></g><circle cx="282.9" cy="87.4" r="3.4" fill="none" stroke="#e6bf2e" stroke-width="0.5" opacity="0.9"/>
<g opacity="0.8"><circle cx="355.2" cy="93.3" r="4.5" fill="#6a4da8"/></g><circle cx="355.2" cy="93.3" r="4.5" fill="none" stroke="#6a4da8" stroke-width="0.5" opacity="0.9"/>
<g opacity="0.8"><path d="M228 111.6L228.00 106.60A5 5 0 1 1 227.06 106.69Z" fill="#e6606c"/><path d="M228 111.6L227.06 106.69A5 5 0 0 1 228.00 106.60Z" fill="#333"/></g><circle cx="228" cy="111.6" r="5" fill="none" stroke="#d84858" stroke-width="0.5" opacity="0.9"/>
<g opacity="0.8"><path d="M264 115.9L264.00 111.50A4.4 4.4 0 0 1 266.59 119.46Z" fill="#e6bf2e"/><path d="M264 115.9L266.59 119.46A4.4 4.4 0 0 1 259.60 115.90Z" fill="#e6606c"/><path d="M264 115.9L259.60 115.90A4.4 4.4 0 0 1 264.00 111.50Z" fill="#232b8e"/></g><circle cx="264" cy="115.9" r="4.4" fill="none" stroke="#e6bf2e" stroke-width="0.5" opacity="0.9"/>
<g opacity="0.8"><path d="M215.1 130.8L215.10 126.80A4 4 0 1 1 212.75 134.04Z" fill="#7a3aa8"/><path d="M215.1 130.8L212.75 134.04A4 4 0 0 1 215.10 126.80Z" fill="#e6bf2e"/></g><circle cx="215.1" cy="130.8" r="4" fill="none" stroke="#7a3aa8" stroke-width="0.5" opacity="0.9"/>
<g opacity="0.8"><circle cx="265.9" cy="153.1" r="4.2" fill="#e6bf2e"/></g><circle cx="265.9" cy="153.1" r="4.2" fill="none" stroke="#e6bf2e" stroke-width="0.5" opacity="0.9"/>
<g opacity="0.8"><path d="M205.2 165.1L205.20 161.10A4 4 0 1 1 201.40 166.34Z" fill="#e6606c"/><path d="M205.2 165.1L201.40 166.34A4 4 0 0 1 205.20 161.10Z" fill="#e6bf2e"/></g><circle cx="205.2" cy="165.1" r="4" fill="none" stroke="#e6606c" stroke-width="0.5" opacity="0.9"/>
<g opacity="0.8"><path d="M221 169.8L221.00 165.80A4 4 0 0 1 222.24 173.60Z" fill="#232b8e"/><path d="M221 169.8L222.24 173.60A4 4 0 0 1 217.00 169.80Z" fill="#e6bf2e"/><path d="M221 169.8L217.00 169.80A4 4 0 0 1 221.00 165.80Z" fill="#e6606c"/></g><circle cx="221" cy="169.8" r="4" fill="none" stroke="#232b8e" stroke-width="0.5" opacity="0.9"/>
<g opacity="0.8"><path d="M242.3 176.5L242.30 172.00A4.5 4.5 0 1 1 239.65 172.86Z" fill="#e6606c"/><path d="M242.3 176.5L239.65 172.86A4.5 4.5 0 0 1 242.30 172.00Z" fill="#e6bf2e"/></g><circle cx="242.3" cy="176.5" r="4.5" fill="none" stroke="#d84858" stroke-width="0.5" opacity="0.9"/>
<g opacity="0.8"><path d="M219 206.7L219.00 202.70A4 4 0 1 1 216.65 203.46Z" fill="#e6606c"/><path d="M219 206.7L216.65 203.46A4 4 0 0 1 219.00 202.70Z" fill="#e6bf2e"/></g><circle cx="219" cy="206.7" r="4" fill="none" stroke="#e6606c" stroke-width="0.5" opacity="0.9"/>
<g opacity="0.8"><circle cx="230.3" cy="207.5" r="4" fill="#e6bf2e"/></g><circle cx="230.3" cy="207.5" r="4" fill="none" stroke="#e6bf2e" stroke-width="0.5" opacity="0.9"/>
<g opacity="0.8"><path d="M239.5 216.1L239.50 211.60A4.5 4.5 0 1 1 235.86 213.45Z" fill="#e6606c"/><path d="M239.5 216.1L235.86 213.45A4.5 4.5 0 0 1 239.50 211.60Z" fill="#e6bf2e"/></g><circle cx="239.5" cy="216.1" r="4.5" fill="none" stroke="#d84858" stroke-width="0.5" opacity="0.9"/>
<g opacity="0.8"><circle cx="274.8" cy="202" r="4" fill="#e8688e"/></g><circle cx="274.8" cy="202" r="4" fill="none" stroke="#d84868" stroke-width="0.5" opacity="0.9"/>
<g opacity="0.8"><path d="M293.8 208.6L293.80 204.60A4 4 0 1 1 293.05 204.67Z" fill="#e6bf2e"/><path d="M293.8 208.6L293.05 204.67A4 4 0 0 1 293.80 204.60Z" fill="#333"/></g><circle cx="293.8" cy="208.6" r="4" fill="none" stroke="#e6bf2e" stroke-width="0.5" opacity="0.9"/>
<g opacity="0.8"><circle cx="299.9" cy="206.1" r="4" fill="#e6bf2e"/></g><circle cx="299.9" cy="206.1" r="4" fill="none" stroke="#e6bf2e" stroke-width="0.5" opacity="0.9"/>
<g opacity="0.8"><circle cx="304.2" cy="224" r="4" fill="#2f97a0"/></g><circle cx="304.2" cy="224" r="4" fill="none" stroke="#2f97a0" stroke-width="0.5" opacity="0.9"/>
<rect x="34.1" y="221.8" width="2.4" height="2.4" fill="#f25022"/><rect x="36.9" y="221.8" width="2.4" height="2.4" fill="#7fba00"/><rect x="34.1" y="224.6" width="2.4" height="2.4" fill="#00a4ef"/><rect x="36.9" y="224.6" width="2.4" height="2.4" fill="#ffb900"/>
<text x="40.7" y="226.6" font-size="4" fill="#555" stroke="#fff" stroke-width="0.6" paint-order="stroke" textLength="26.5" lengthAdjust="spacingAndGlyphs">Microsoft Bing</text>
<text x="274" y="227.4" font-size="4.6" fill="#333" stroke="#fff" stroke-width="0.7" paint-order="stroke" textLength="59.8" lengthAdjust="spacingAndGlyphs">© 2022 Microsoft Corporation</text>
<text x="337.6" y="227.4" font-size="4.6" fill="#3a6fd0" textLength="12.2" lengthAdjust="spacingAndGlyphs">Terms</text><rect x="337.6" y="228" width="12.2" height="0.4" fill="#3a6fd0"/>
</svg>
<svg class="abs" style="left:593px;top:85px" width="8" height="5" viewBox="593 85 8 5"><path d="M594.6 86.2 L599 86.2 L596.8 88.4Z" fill="#222"/></svg>
<div class="abs" style="left:369px;top:91.1px;width:286.85px;height:0.9px;background:#5b9bd5"></div>
<div class="abs" style="left:591.2px;top:91.1px;width:0.9px;height:141.5px;background:#5b9bd5"></div>
<div class="hl" style="left:369px;top:104.0px;width:286.85px"></div>
<div class="hl" style="left:369px;top:116.9px;width:286.85px"></div>
<div class="hl" style="left:369px;top:129.8px;width:286.85px"></div>
<div class="hl" style="left:369px;top:142.7px;width:286.85px"></div>
<div class="hl" style="left:369px;top:155.6px;width:286.85px"></div>
<div class="hl" style="left:369px;top:168.5px;width:286.85px"></div>
<div class="hl" style="left:369px;top:181.4px;width:286.85px"></div>
<div class="hl" style="left:369px;top:194.3px;width:286.85px"></div>
<div class="hl" style="left:369px;top:207.2px;width:286.85px"></div>
<div class="hl" style="left:369px;top:220.1px;width:286.85px"></div>
<div class="abs" style="left:664.5px;top:74px;width:4.8px;height:154px;background:#f1f1f1"></div>
<div class="abs" style="left:664.5px;top:88.2px;width:4.8px;height:5.6px;background:#c9c9c9"></div>
<svg class="abs" style="left:663px;top:76px" width="8" height="150" viewBox="663 76 8 150">
<path d="M665.3 82 L666.9 80.2 L668.5 82" fill="none" stroke="#444" stroke-width="0.6"/>
<path d="M665.3 220.4 L666.9 222.2 L668.5 220.4" fill="none" stroke="#444" stroke-width="0.6"/></svg>
<svg class="abs" style="left:0;top:0" width="700" height="487" viewBox="0 0 700 487"><text x="31.30" y="43.00" font-size="15" fill="#141414" textLength="39.20" lengthAdjust="spacingAndGlyphs" stroke="#fff" stroke-width="0.28">Clienti</text>
<text x="276.20" y="39.90" font-size="5.8" fill="#666" textLength="13.00" lengthAdjust="spacingAndGlyphs">2020</text>
<text x="305.00" y="39.90" font-size="5.8" fill="#666" textLength="13.00" lengthAdjust="spacingAndGlyphs">2021</text>
<text x="333.80" y="39.90" font-size="5.8" fill="#666" textLength="13.00" lengthAdjust="spacingAndGlyphs">2022</text>
<text x="386.51" y="39.60" font-size="5.8" fill="#666" textLength="9.39" lengthAdjust="spacingAndGlyphs">gen</text>
<text x="411.29" y="39.60" font-size="5.8" fill="#666" textLength="7.82" lengthAdjust="spacingAndGlyphs">feb</text>
<text x="434.36" y="39.60" font-size="5.8" fill="#666" textLength="9.69" lengthAdjust="spacingAndGlyphs">mar</text>
<text x="459.13" y="39.60" font-size="5.8" fill="#666" textLength="8.13" lengthAdjust="spacingAndGlyphs">apr</text>
<text x="481.73" y="39.60" font-size="5.8" fill="#666" textLength="10.94" lengthAdjust="spacingAndGlyphs">mag</text>
<text x="507.45" y="39.60" font-size="5.8" fill="#666" textLength="7.51" lengthAdjust="spacingAndGlyphs">giu</text>
<text x="531.45" y="39.60" font-size="5.8" fill="#666" textLength="7.51" lengthAdjust="spacingAndGlyphs">lug</text>
<text x="554.51" y="39.60" font-size="5.8" fill="#666" textLength="9.39" lengthAdjust="spacingAndGlyphs">ago</text>
<text x="579.45" y="39.60" font-size="5.8" fill="#666" textLength="7.50" lengthAdjust="spacingAndGlyphs">set</text>
<text x="604.07" y="39.60" font-size="5.8" fill="#666" textLength="6.26" lengthAdjust="spacingAndGlyphs">ott</text>
<text x="626.66" y="39.60" font-size="5.8" fill="#666" textLength="9.07" lengthAdjust="spacingAndGlyphs">nov</text>
<text x="651.60" y="39.60" font-size="5.8" fill="#666" textLength="7.19" lengthAdjust="spacingAndGlyphs">dic</text>
<text x="31.40" y="70.40" font-size="9.5" fill="#2a2a2a" textLength="127.60" lengthAdjust="spacingAndGlyphs">Fatturato per categoria cliente</text>
<text x="371.50" y="70.40" font-size="9.5" fill="#2a2a2a" textLength="65.60" lengthAdjust="spacingAndGlyphs">Fatturato clienti</text>
<text x="31.50" y="252.10" font-size="9.5" fill="#2a2a2a" textLength="78.80" lengthAdjust="spacingAndGlyphs">Fatturato per stato</text>
<text x="247.40" y="252.10" font-size="9.5" fill="#2a2a2a" textLength="90.40" lengthAdjust="spacingAndGlyphs">Fatturato per regione</text>
<text x="470.40" y="252.10" font-size="9.5" fill="#2a2a2a" textLength="77.60" lengthAdjust="spacingAndGlyphs">Fatturato per zona</text>
<text x="371.60" y="83.70" font-size="6.85" fill="#333" textLength="20.80" lengthAdjust="spacingAndGlyphs">Cliente</text>
<text x="594.90" y="83.80" font-size="6.85" fill="#333" textLength="58.00" lengthAdjust="spacingAndGlyphs">Importo - Fatturato</text>
<text x="371.60" y="100.10" font-size="6.85" fill="#333" textLength="103.92" lengthAdjust="spacingAndGlyphs">2844412968 - Cliente 2844412968</text>
<text x="652.90" y="100.10" font-size="6.85" fill="#333" text-anchor="end" textLength="29.41" lengthAdjust="spacingAndGlyphs">1,090,319</text>
<text x="371.60" y="113.00" font-size="6.85" fill="#333" textLength="96.42" lengthAdjust="spacingAndGlyphs">232679021 - Cliente 232679021</text>
<text x="652.90" y="113.00" font-size="6.85" fill="#333" text-anchor="end" textLength="23.89" lengthAdjust="spacingAndGlyphs">529,327</text>
<text x="371.60" y="125.90" font-size="6.85" fill="#333" textLength="103.92" lengthAdjust="spacingAndGlyphs">1361019445 - Cliente 1361019445</text>
<text x="652.90" y="125.90" font-size="6.85" fill="#333" text-anchor="end" textLength="23.89" lengthAdjust="spacingAndGlyphs">448,525</text>
<text x="371.60" y="138.80" font-size="6.85" fill="#333" textLength="103.92" lengthAdjust="spacingAndGlyphs">8075652356 - Cliente 8075652356</text>
<text x="652.90" y="138.80" font-size="6.85" fill="#333" text-anchor="end" textLength="23.89" lengthAdjust="spacingAndGlyphs">368,915</text>
<text x="371.60" y="151.70" font-size="6.85" fill="#333" textLength="103.92" lengthAdjust="spacingAndGlyphs">8431323012 - Cliente 8431323012</text>
<text x="652.90" y="151.70" font-size="6.85" fill="#333" text-anchor="end" textLength="23.89" lengthAdjust="spacingAndGlyphs">342,720</text>
<text x="371.60" y="164.60" font-size="6.85" fill="#333" textLength="103.92" lengthAdjust="spacingAndGlyphs">7347243704 - Cliente 7347243704</text>
<text x="652.90" y="164.60" font-size="6.85" fill="#333" text-anchor="end" textLength="23.89" lengthAdjust="spacingAndGlyphs">307,308</text>
<text x="371.60" y="177.50" font-size="6.85" fill="#333" textLength="88.91" lengthAdjust="spacingAndGlyphs">71505828 - Cliente 71505828</text>
<text x="652.90" y="177.50" font-size="6.85" fill="#333" text-anchor="end" textLength="23.89" lengthAdjust="spacingAndGlyphs">300,247</text>
<text x="371.60" y="190.40" font-size="6.85" fill="#333" textLength="103.92" lengthAdjust="spacingAndGlyphs">4859341428 - Cliente 4859341428</text>
<text x="652.90" y="190.40" font-size="6.85" fill="#333" text-anchor="end" textLength="23.89" lengthAdjust="spacingAndGlyphs">299,629</text>
<text x="371.60" y="203.30" font-size="6.85" fill="#333" textLength="102.92" lengthAdjust="spacingAndGlyphs">3928116345 - Cliente 3928116345</text>
<text x="652.90" y="203.30" font-size="6.85" fill="#333" text-anchor="end" textLength="23.89" lengthAdjust="spacingAndGlyphs">282,528</text>
<text x="371.60" y="216.20" font-size="6.85" fill="#333" textLength="103.92" lengthAdjust="spacingAndGlyphs">3062882091 - Cliente 3062882091</text>
<text x="652.90" y="216.20" font-size="6.85" fill="#333" text-anchor="end" textLength="23.89" lengthAdjust="spacingAndGlyphs">265,454</text>
<text x="371.60" y="229.10" font-size="6.85" fill="#222" font-weight="bold" textLength="15.54" lengthAdjust="spacingAndGlyphs">Total</text>
<text x="652.90" y="229.10" font-size="6.85" fill="#222" text-anchor="end" font-weight="bold" textLength="34.80" lengthAdjust="spacingAndGlyphs">14,669,820</text></svg>
<svg class="abs" style="left:20px;top:256px" width="659.5" height="135.5" viewBox="20 256 659.5 135.5">
<path d="M135.80 273.00A49.8 49.8 0 1 1 135.46 273.00L135.59 292.80A30 30 0 1 0 135.80 292.80Z" fill="#2f7fc1" stroke="#2f7fc1" stroke-width="0.15"/>
<path d="M135.46 273.00A49.8 49.8 0 0 1 135.80 273.00L135.80 292.80A30 30 0 0 0 135.59 292.80Z" fill="#232b8e" stroke="#232b8e" stroke-width="0.15"/>
<path d="M129.6 266.9 L135.4 266.9 L135.4 272.2" fill="none" stroke="#aaa" stroke-width="0.5"/>
<path d="M135.5 372.2 L135.5 378.5 L141.2 378.5" fill="none" stroke="#aaa" stroke-width="0.5"/>
<text x="127.20" y="265.00" font-size="5.0" fill="#606060" text-anchor="end" textLength="33.00" lengthAdjust="spacingAndGlyphs">SAN MARINO</text>
<text x="127.20" y="271.90" font-size="5.0" fill="#606060" text-anchor="end" textLength="27.50" lengthAdjust="spacingAndGlyphs">0M (0.11%)</text>
<text x="144.20" y="380.60" font-size="5.0" fill="#606060" textLength="49.80" lengthAdjust="spacingAndGlyphs">ITALIA 15M (99.89%)</text>
<path d="M350.50 273.00A49.8 49.8 0 0 1 394.38 346.35L376.93 336.99A30 30 0 0 0 350.50 292.80Z" fill="#2f7fc1" stroke="#2f7fc1" stroke-width="0.15"/>
<path d="M394.38 346.35A49.8 49.8 0 0 1 339.42 371.35L343.83 352.05A30 30 0 0 0 376.93 336.99Z" fill="#232b8e" stroke="#232b8e" stroke-width="0.15"/>
<path d="M339.42 371.35A49.8 49.8 0 0 1 309.42 350.95L325.75 339.76A30 30 0 0 0 343.83 352.05Z" fill="#e8693a" stroke="#e8693a" stroke-width="0.15"/>
<path d="M309.42 350.95A49.8 49.8 0 0 1 300.82 326.30L320.57 324.91A30 30 0 0 0 325.75 339.76Z" fill="#6b1583" stroke="#6b1583" stroke-width="0.15"/>
<path d="M300.82 326.30A49.8 49.8 0 0 1 303.51 306.31L322.19 312.87A30 30 0 0 0 320.57 324.91Z" fill="#d5449f" stroke="#d5449f" stroke-width="0.15"/>
<path d="M303.51 306.31A49.8 49.8 0 0 1 309.63 294.34L325.88 305.66A30 30 0 0 0 322.19 312.87Z" fill="#6a4da8" stroke="#6a4da8" stroke-width="0.15"/>
<path d="M309.63 294.34A49.8 49.8 0 0 1 317.99 285.07L330.92 300.07A30 30 0 0 0 325.88 305.66Z" fill="#dab21a" stroke="#dab21a" stroke-width="0.15"/>
<path d="M317.99 285.07A49.8 49.8 0 0 1 324.67 280.22L334.94 297.15A30 30 0 0 0 330.92 300.07Z" fill="#d64752" stroke="#d64752" stroke-width="0.15"/>
<path d="M324.67 280.22A49.8 49.8 0 0 1 331.79 276.65L339.23 295.00A30 30 0 0 0 334.94 297.15Z" fill="#1f6f78" stroke="#1f6f78" stroke-width="0.15"/>
<path d="M331.79 276.65A49.8 49.8 0 0 1 337.87 274.63L342.89 293.78A30 30 0 0 0 339.23 295.00Z" fill="#1fa344" stroke="#1fa344" stroke-width="0.15"/>
<path d="M337.87 274.63A49.8 49.8 0 0 1 343.70 273.47L346.40 293.08A30 30 0 0 0 342.89 293.78Z" fill="#2ab4e6" stroke="#2ab4e6" stroke-width="0.15"/>
<path d="M343.70 273.47A49.8 49.8 0 0 1 345.56 273.25L347.53 292.95A30 30 0 0 0 346.40 293.08Z" fill="#4a8fe6" stroke="#4a8fe6" stroke-width="0.15"/>
<path d="M345.56 273.25A49.8 49.8 0 0 1 346.97 273.13L348.37 292.88A30 30 0 0 0 347.53 292.95Z" fill="#f5a05f" stroke="#f5a05f" stroke-width="0.15"/>
<path d="M346.97 273.13A49.8 49.8 0 0 1 348.22 273.05L349.12 292.83A30 30 0 0 0 348.37 292.88Z" fill="#b760c2" stroke="#b760c2" stroke-width="0.15"/>
<path d="M348.22 273.05A49.8 49.8 0 0 1 349.15 273.02L349.69 292.81A30 30 0 0 0 349.12 292.83Z" fill="#ea74c8" stroke="#ea74c8" stroke-width="0.15"/>
<path d="M349.15 273.02A49.8 49.8 0 0 1 349.78 273.01L350.07 292.80A30 30 0 0 0 349.69 292.81Z" fill="#b1a2f0" stroke="#b1a2f0" stroke-width="0.15"/>
<path d="M349.78 273.01A49.8 49.8 0 0 1 350.09 273.00L350.25 292.80A30 30 0 0 0 350.07 292.80Z" fill="#c6a50e" stroke="#c6a50e" stroke-width="0.15"/>
<path d="M350.09 273.00A49.8 49.8 0 0 1 350.34 273.00L350.41 292.80A30 30 0 0 0 350.25 292.80Z" fill="#f48686" stroke="#f48686" stroke-width="0.15"/>
<path d="M350.34 273.00A49.8 49.8 0 0 1 350.50 273.00L350.50 292.80A30 30 0 0 0 350.41 292.80Z" fill="#55bfab" stroke="#55bfab" stroke-width="0.15"/>
<text x="319.00" y="273.60" font-size="5.0" fill="#606060" text-anchor="end" textLength="47.00" lengthAdjust="spacingAndGlyphs">PUGLIA 0M (2.64%)</text>
<path d="M321.3 271.6 L326.7 271.6 L329.7 275.4" fill="none" stroke="#a6a6a6" stroke-width="0.5"/>
<text x="302.00" y="281.10" font-size="5.0" fill="#606060" text-anchor="end" textLength="23.90" lengthAdjust="spacingAndGlyphs">TOSCANA</text>
<text x="302.00" y="288.20" font-size="5.0" fill="#606060" text-anchor="end" textLength="19.00" lengthAdjust="spacingAndGlyphs">1M (4%)</text>
<path d="M304.3 282.3 L311.3 282.3 L314.3 286.2" fill="none" stroke="#a6a6a6" stroke-width="0.5"/>
<text x="291.20" y="295.40" font-size="5.0" fill="#606060" text-anchor="end" textLength="44.70" lengthAdjust="spacingAndGlyphs">EMILIA ROMAGNA</text>
<text x="291.20" y="302.70" font-size="5.0" fill="#606060" text-anchor="end" textLength="26.20" lengthAdjust="spacingAndGlyphs">1M (4.31%)</text>
<path d="M293.5 297.0 L300.5 297.0 L304.3 300.4" fill="none" stroke="#a6a6a6" stroke-width="0.5"/>
<text x="285.80" y="313.60" font-size="5.0" fill="#606060" text-anchor="end" textLength="19.70" lengthAdjust="spacingAndGlyphs">VENETO</text>
<text x="285.80" y="320.90" font-size="5.0" fill="#606060" text-anchor="end" textLength="26.20" lengthAdjust="spacingAndGlyphs">1M (6.49%)</text>
<path d="M288.1 315.0 L298.2 315.0 L300.4 315.8" fill="none" stroke="#a6a6a6" stroke-width="0.5"/>
<text x="288.60" y="340.00" font-size="5.0" fill="#606060" text-anchor="end" textLength="16.85" lengthAdjust="spacingAndGlyphs">SICILIA</text>
<text x="288.60" y="347.00" font-size="5.0" fill="#606060" text-anchor="end" textLength="26.30" lengthAdjust="spacingAndGlyphs">1M (8.44%)</text>
<path d="M291.2 341.3 L298.2 341.3 L301.9 339.3" fill="none" stroke="#a6a6a6" stroke-width="0.5"/>
<text x="319.00" y="376.20" font-size="5.0" fill="#606060" text-anchor="end" textLength="50.90" lengthAdjust="spacingAndGlyphs">LIGURIA 2M (11.87%)</text>
<path d="M321.3 374.4 L327.4 374.4 L329.7 369.6" fill="none" stroke="#a6a6a6" stroke-width="0.5"/>
<text x="406.70" y="292.30" font-size="5.0" fill="#606060" textLength="25.90" lengthAdjust="spacingAndGlyphs">PIEMONTE</text>
<text x="406.70" y="299.50" font-size="5.0" fill="#606060" textLength="29.70" lengthAdjust="spacingAndGlyphs">5M (32.84%)</text>
<path d="M404.9 293.6 L398.5 293.6 L394.1 296.2" fill="none" stroke="#a6a6a6" stroke-width="0.5"/>
<text x="381.80" y="372.00" font-size="5.0" fill="#606060" textLength="29.50" lengthAdjust="spacingAndGlyphs">LOMBARDIA</text>
<text x="381.80" y="379.50" font-size="5.0" fill="#606060" textLength="30.20" lengthAdjust="spacingAndGlyphs">3M (20.73%)</text>
<path d="M379.2 373.8 L374.1 373.8 L371.5 368.7" fill="none" stroke="#a6a6a6" stroke-width="0.5"/>
<path d="M564.30 273.20A49.6 49.6 0 1 1 526.08 291.18L541.03 303.55A30.2 30.2 0 1 0 564.30 292.60Z" fill="none" stroke="none" stroke-width="0.15"/>
<path d="M526.08 291.18A49.6 49.6 0 0 1 564.30 273.20L564.30 292.60A30.2 30.2 0 0 0 541.03 303.55Z" fill="#2c3e50" stroke="#2c3e50" stroke-width="0.15"/>
<path d="M564.30 273.00A49.8 49.8 0 0 1 609.10 301.06L591.29 309.70A30 30 0 0 0 564.30 292.80Z" fill="#2f7fc1" stroke="#2f7fc1" stroke-width="0.15"/>
<path d="M609.10 301.06A49.8 49.8 0 0 1 605.82 350.30L589.31 339.37A30 30 0 0 0 591.29 309.70Z" fill="#232b8e" stroke="#232b8e" stroke-width="0.15"/>
<path d="M605.82 350.30A49.8 49.8 0 0 1 563.42 372.59L563.77 352.80A30 30 0 0 0 589.31 339.37Z" fill="#e8693a" stroke="#e8693a" stroke-width="0.15"/>
<path d="M563.42 372.59A49.8 49.8 0 0 1 550.35 370.61L555.89 351.60A30 30 0 0 0 563.77 352.80Z" fill="#6b1583" stroke="#6b1583" stroke-width="0.15"/>
<path d="M550.35 370.61A49.8 49.8 0 0 1 540.39 366.49L549.90 349.12A30 30 0 0 0 555.89 351.60Z" fill="#d5449f" stroke="#d5449f" stroke-width="0.15"/>
<path d="M540.39 366.49A49.8 49.8 0 0 1 533.36 361.82L545.66 346.31A30 30 0 0 0 549.90 349.12Z" fill="#6a4da8" stroke="#6a4da8" stroke-width="0.15"/>
<path d="M533.36 361.82A49.8 49.8 0 0 1 527.53 356.39L542.15 343.03A30 30 0 0 0 545.66 346.31Z" fill="#dab21a" stroke="#dab21a" stroke-width="0.15"/>
<path d="M527.53 356.39A49.8 49.8 0 0 1 522.90 350.48L539.36 339.47A30 30 0 0 0 542.15 343.03Z" fill="#d64752" stroke="#d64752" stroke-width="0.15"/>
<path d="M522.90 350.48A49.8 49.8 0 0 1 519.32 344.17L537.20 335.68A30 30 0 0 0 539.36 339.47Z" fill="#1f6f78" stroke="#1f6f78" stroke-width="0.15"/>
<path d="M519.32 344.17A49.8 49.8 0 0 1 516.95 338.22L535.77 332.09A30 30 0 0 0 537.20 335.68Z" fill="#1fa344" stroke="#1fa344" stroke-width="0.15"/>
<path d="M516.95 338.22A49.8 49.8 0 0 1 515.45 332.47L534.87 328.62A30 30 0 0 0 535.77 332.09Z" fill="#2ab4e6" stroke="#2ab4e6" stroke-width="0.15"/>
<path d="M515.45 332.47A49.8 49.8 0 0 1 514.66 326.83L534.40 325.23A30 30 0 0 0 534.87 328.62Z" fill="#4a8fe6" stroke="#4a8fe6" stroke-width="0.15"/>
<path d="M514.66 326.83A49.8 49.8 0 0 1 514.53 321.20L534.32 321.84A30 30 0 0 0 534.40 325.23Z" fill="#f5a05f" stroke="#f5a05f" stroke-width="0.15"/>
<path d="M514.53 321.20A49.8 49.8 0 0 1 515.01 315.72L534.60 318.54A30 30 0 0 0 534.32 321.84Z" fill="#b760c2" stroke="#b760c2" stroke-width="0.15"/>
<path d="M515.01 315.72A49.8 49.8 0 0 1 515.75 311.72L535.05 316.13A30 30 0 0 0 534.60 318.54Z" fill="#ea74c8" stroke="#ea74c8" stroke-width="0.15"/>
<path d="M515.75 311.72A49.8 49.8 0 0 1 516.77 307.95L535.67 313.85A30 30 0 0 0 535.05 316.13Z" fill="#b1a2f0" stroke="#b1a2f0" stroke-width="0.15"/>
<path d="M516.77 307.95A49.8 49.8 0 0 1 518.04 304.35L536.43 311.69A30 30 0 0 0 535.67 313.85Z" fill="#c6a50e" stroke="#c6a50e" stroke-width="0.15"/>
<path d="M518.04 304.35A49.8 49.8 0 0 1 519.50 301.06L537.31 309.70A30 30 0 0 0 536.43 311.69Z" fill="#f48686" stroke="#f48686" stroke-width="0.15"/>
<path d="M519.50 301.06A49.8 49.8 0 0 1 521.10 298.02L538.28 307.87A30 30 0 0 0 537.31 309.70Z" fill="#55bfab" stroke="#55bfab" stroke-width="0.15"/>
<path d="M521.10 298.02A49.8 49.8 0 0 1 522.83 295.22L539.32 306.19A30 30 0 0 0 538.28 307.87Z" fill="#6cbf4b" stroke="#6cbf4b" stroke-width="0.15"/>
<path d="M522.83 295.22A49.8 49.8 0 0 1 524.65 292.67L540.41 304.65A30 30 0 0 0 539.32 306.19Z" fill="#1f8fdc" stroke="#1f8fdc" stroke-width="0.15"/>
<path d="M524.65 292.67A49.8 49.8 0 0 1 526.41 290.48L541.48 303.33A30 30 0 0 0 540.41 304.65Z" fill="#3f6fc4" stroke="#3f6fc4" stroke-width="0.15"/>
<path d="M526.41 290.48A49.8 49.8 0 0 1 528.08 288.62L542.48 302.21A30 30 0 0 0 541.48 303.33Z" fill="#f27312" stroke="#f27312" stroke-width="0.15"/>
<path d="M528.08 288.62A49.8 49.8 0 0 1 529.62 287.06L543.41 301.27A30 30 0 0 0 542.48 302.21Z" fill="#b5179e" stroke="#b5179e" stroke-width="0.15"/>
<path d="M529.62 287.06A49.8 49.8 0 0 1 531.18 285.61L544.35 300.40A30 30 0 0 0 543.41 301.27Z" fill="#7b2a95" stroke="#7b2a95" stroke-width="0.15"/>
<path d="M531.18 285.61A49.8 49.8 0 0 1 532.73 284.29L545.28 299.60A30 30 0 0 0 544.35 300.40Z" fill="#ea2e8c" stroke="#ea2e8c" stroke-width="0.15"/>
<path d="M532.73 284.29A49.8 49.8 0 0 1 534.25 283.09L546.20 298.88A30 30 0 0 0 545.28 299.60Z" fill="#8c8a1f" stroke="#8c8a1f" stroke-width="0.15"/>
<path d="M534.25 283.09A49.8 49.8 0 0 1 535.77 281.98L547.11 298.21A30 30 0 0 0 546.20 298.88Z" fill="#ef4444" stroke="#ef4444" stroke-width="0.15"/>
<path d="M535.77 281.98A49.8 49.8 0 0 1 537.25 280.99L548.00 297.61A30 30 0 0 0 547.11 298.21Z" fill="#17a589" stroke="#17a589" stroke-width="0.15"/>
<path d="M537.25 280.99A49.8 49.8 0 0 1 538.71 280.08L548.88 297.06A30 30 0 0 0 548.00 297.61Z" fill="#1e9e3e" stroke="#1e9e3e" stroke-width="0.15"/>
<path d="M538.71 280.08A49.8 49.8 0 0 1 540.14 279.25L549.75 296.57A30 30 0 0 0 548.88 297.06Z" fill="#0e2f7e" stroke="#0e2f7e" stroke-width="0.15"/>
<path d="M540.14 279.25A49.8 49.8 0 0 1 541.55 278.50L550.60 296.11A30 30 0 0 0 549.75 296.57Z" fill="#1c56a6" stroke="#1c56a6" stroke-width="0.15"/>
<path d="M541.55 278.50A49.8 49.8 0 0 1 542.46 278.04L551.14 295.84A30 30 0 0 0 550.60 296.11Z" fill="#e67319" stroke="#e67319" stroke-width="0.15"/>
<path d="M542.46 278.04A49.8 49.8 0 0 1 543.36 277.62L551.68 295.58A30 30 0 0 0 551.14 295.84Z" fill="#5e1a75" stroke="#5e1a75" stroke-width="0.15"/>
<path d="M543.36 277.62A49.8 49.8 0 0 1 544.24 277.22L552.22 295.34A30 30 0 0 0 551.68 295.58Z" fill="#b01c84" stroke="#b01c84" stroke-width="0.15"/>
<path d="M544.24 277.22A49.8 49.8 0 0 1 545.11 276.85L552.74 295.12A30 30 0 0 0 552.22 295.34Z" fill="#2aa84a" stroke="#2aa84a" stroke-width="0.15"/>
<path d="M545.11 276.85A49.8 49.8 0 0 1 545.97 276.50L553.26 294.91A30 30 0 0 0 552.74 295.12Z" fill="#123a4a" stroke="#123a4a" stroke-width="0.15"/>
<path d="M545.97 276.50A49.8 49.8 0 0 1 546.81 276.17L553.77 294.71A30 30 0 0 0 553.26 294.91Z" fill="#d83030" stroke="#d83030" stroke-width="0.15"/>
<path d="M546.81 276.17A49.8 49.8 0 0 1 547.64 275.87L554.27 294.53A30 30 0 0 0 553.77 294.71Z" fill="#0e5a50" stroke="#0e5a50" stroke-width="0.15"/>
<path d="M547.64 275.87A49.8 49.8 0 0 1 548.46 275.59L554.76 294.36A30 30 0 0 0 554.27 294.53Z" fill="#d8b020" stroke="#d8b020" stroke-width="0.15"/>
<path d="M548.46 275.59A49.8 49.8 0 0 1 549.25 275.33L555.24 294.20A30 30 0 0 0 554.76 294.36Z" fill="#402060" stroke="#402060" stroke-width="0.15"/>
<path d="M549.25 275.33A49.8 49.8 0 0 1 550.03 275.09L555.71 294.06A30 30 0 0 0 555.24 294.20Z" fill="#c05010" stroke="#c05010" stroke-width="0.15"/>
<path d="M550.03 275.09A49.8 49.8 0 0 1 550.80 274.87L556.16 293.92A30 30 0 0 0 555.71 294.06Z" fill="#1d5f9a" stroke="#1d5f9a" stroke-width="0.15"/>
<path d="M550.80 274.87A49.8 49.8 0 0 1 551.54 274.66L556.61 293.80A30 30 0 0 0 556.16 293.92Z" fill="#18805a" stroke="#18805a" stroke-width="0.15"/>
<path d="M551.54 274.66A49.8 49.8 0 0 1 552.27 274.48L557.05 293.69A30 30 0 0 0 556.61 293.80Z" fill="#7a1840" stroke="#7a1840" stroke-width="0.15"/>
<path d="M552.27 274.48A49.8 49.8 0 0 1 552.97 274.31L557.48 293.59A30 30 0 0 0 557.05 293.69Z" fill="#d8b418" stroke="#d8b418" stroke-width="0.15"/>
<path d="M552.97 274.31A49.8 49.8 0 0 1 553.66 274.15L557.89 293.49A30 30 0 0 0 557.48 293.59Z" fill="#1a3a6a" stroke="#1a3a6a" stroke-width="0.15"/>
<path d="M553.66 274.15A49.8 49.8 0 0 1 554.33 274.01L558.29 293.41A30 30 0 0 0 557.89 293.49Z" fill="#4a6ab0" stroke="#4a6ab0" stroke-width="0.15"/>
<path d="M554.33 274.01A49.8 49.8 0 0 1 554.98 273.88L558.69 293.33A30 30 0 0 0 558.29 293.41Z" fill="#a85428" stroke="#a85428" stroke-width="0.15"/>
<path d="M554.98 273.88A49.8 49.8 0 0 1 555.61 273.76L559.06 293.26A30 30 0 0 0 558.69 293.33Z" fill="#707880" stroke="#707880" stroke-width="0.15"/>
<path d="M555.61 273.76A49.8 49.8 0 0 1 556.22 273.66L559.43 293.20A30 30 0 0 0 559.06 293.26Z" fill="#b0a878" stroke="#b0a878" stroke-width="0.15"/>
<path d="M556.22 273.66A49.8 49.8 0 0 1 556.81 273.57L559.79 293.14A30 30 0 0 0 559.43 293.20Z" fill="#40609a" stroke="#40609a" stroke-width="0.15"/>
<path d="M556.81 273.57A49.8 49.8 0 0 1 557.37 273.48L560.13 293.09A30 30 0 0 0 559.79 293.14Z" fill="#6a7468" stroke="#6a7468" stroke-width="0.15"/>
<path d="M557.37 273.48A49.8 49.8 0 0 1 557.92 273.41L560.46 293.05A30 30 0 0 0 560.13 293.09Z" fill="#b09850" stroke="#b09850" stroke-width="0.15"/>
<path d="M557.92 273.41A49.8 49.8 0 0 1 558.45 273.35L560.77 293.01A30 30 0 0 0 560.46 293.05Z" fill="#30507a" stroke="#30507a" stroke-width="0.15"/>
<path d="M558.45 273.35A49.8 49.8 0 0 1 558.95 273.29L561.08 292.97A30 30 0 0 0 560.77 293.01Z" fill="#c8b860" stroke="#c8b860" stroke-width="0.15"/>
<path d="M558.95 273.29A49.8 49.8 0 0 1 559.43 273.24L561.37 292.94A30 30 0 0 0 561.08 292.97Z" fill="#606060" stroke="#606060" stroke-width="0.15"/>
<path d="M559.43 273.24A49.8 49.8 0 0 1 559.89 273.20L561.65 292.92A30 30 0 0 0 561.37 292.94Z" fill="#8a8468" stroke="#8a8468" stroke-width="0.15"/>
<path d="M559.89 273.20A49.8 49.8 0 0 1 560.33 273.16L561.91 292.90A30 30 0 0 0 561.65 292.92Z" fill="#283c50" stroke="#283c50" stroke-width="0.15"/>
<path d="M560.33 273.16A49.8 49.8 0 0 1 560.75 273.13L562.16 292.88A30 30 0 0 0 561.91 292.90Z" fill="#74742a" stroke="#74742a" stroke-width="0.15"/>
<path d="M560.75 273.13A49.8 49.8 0 0 1 561.15 273.10L562.40 292.86A30 30 0 0 0 562.16 292.88Z" fill="#484848" stroke="#484848" stroke-width="0.15"/>
<path d="M561.15 273.10A49.8 49.8 0 0 1 561.52 273.08L562.63 292.85A30 30 0 0 0 562.40 292.86Z" fill="#a09048" stroke="#a09048" stroke-width="0.15"/>
<path d="M561.52 273.08A49.8 49.8 0 0 1 561.87 273.06L562.84 292.84A30 30 0 0 0 562.63 292.85Z" fill="#282828" stroke="#282828" stroke-width="0.15"/>
<path d="M561.87 273.06A49.8 49.8 0 0 1 562.21 273.04L563.04 292.83A30 30 0 0 0 562.84 292.84Z" fill="#4a5a30" stroke="#4a5a30" stroke-width="0.15"/>
<path d="M562.21 273.04A49.8 49.8 0 0 1 562.51 273.03L563.22 292.82A30 30 0 0 0 563.04 292.83Z" fill="#1c1c1c" stroke="#1c1c1c" stroke-width="0.15"/>
<path d="M562.51 273.03A49.8 49.8 0 0 1 562.80 273.02L563.40 292.81A30 30 0 0 0 563.22 292.82Z" fill="#74742a" stroke="#74742a" stroke-width="0.15"/>
<path d="M562.80 273.02A49.8 49.8 0 0 1 563.06 273.02L563.56 292.81A30 30 0 0 0 563.40 292.81Z" fill="#303030" stroke="#303030" stroke-width="0.15"/>
<path d="M563.06 273.02A49.8 49.8 0 0 1 563.31 273.01L563.70 292.81A30 30 0 0 0 563.56 292.81Z" fill="#2f7fc1" stroke="#2f7fc1" stroke-width="0.15"/>
<path d="M563.31 273.01A49.8 49.8 0 0 1 563.53 273.01L563.83 292.80A30 30 0 0 0 563.70 292.81Z" fill="#232b8e" stroke="#232b8e" stroke-width="0.15"/>
<path d="M563.53 273.01A49.8 49.8 0 0 1 563.73 273.00L563.95 292.80A30 30 0 0 0 563.83 292.80Z" fill="#e8693a" stroke="#e8693a" stroke-width="0.15"/>
<path d="M563.73 273.00A49.8 49.8 0 0 1 563.90 273.00L564.06 292.80A30 30 0 0 0 563.95 292.80Z" fill="#6b1583" stroke="#6b1583" stroke-width="0.15"/>
<path d="M563.90 273.00A49.8 49.8 0 0 1 564.06 273.00L564.15 292.80A30 30 0 0 0 564.06 292.80Z" fill="#d5449f" stroke="#d5449f" stroke-width="0.15"/>
<path d="M564.06 273.00A49.8 49.8 0 0 1 564.19 273.00L564.23 292.80A30 30 0 0 0 564.15 292.80Z" fill="#6a4da8" stroke="#6a4da8" stroke-width="0.15"/>
<path d="M564.19 273.00A49.8 49.8 0 0 1 564.30 273.00L564.30 292.80A30 30 0 0 0 564.23 292.80Z" fill="#dab21a" stroke="#dab21a" stroke-width="0.15"/>
<text x="528.50" y="275.90" font-size="5.0" fill="#606060" text-anchor="end" textLength="48.50" lengthAdjust="spacingAndGlyphs">Z9BHR... 0M (0.51%)</text>
<path d="M531.0 273.6 L536.2 273.6 L539.4 277.4" fill="none" stroke="#a6a6a6" stroke-width="0.5"/>
<text x="518.50" y="283.30" font-size="5.0" fill="#606060" text-anchor="end" textLength="46.10" lengthAdjust="spacingAndGlyphs">7SSI4... 0M (0.68%)</text>
<path d="M520.8 281.3 L526.9 281.3 L530.0 285.1" fill="none" stroke="#a6a6a6" stroke-width="0.5"/>
<text x="510.90" y="291.30" font-size="5.0" fill="#606060" text-anchor="end" textLength="42.00" lengthAdjust="spacingAndGlyphs">5SUR... 0M (0.9...)</text>
<path d="M513.5 289.3 L519.7 289.3 L523.6 291.6" fill="none" stroke="#a6a6a6" stroke-width="0.5"/>
<text x="505.80" y="300.50" font-size="5.0" fill="#606060" text-anchor="end" textLength="36.85" lengthAdjust="spacingAndGlyphs">A9A... 0M (1....)</text>
<path d="M508.1 298.5 L515.1 298.5 L518.9 300.0" fill="none" stroke="#a6a6a6" stroke-width="0.5"/>
<text x="502.00" y="308.50" font-size="5.0" fill="#606060" text-anchor="end" textLength="35.20" lengthAdjust="spacingAndGlyphs">Z79... 0M (1....)</text>
<path d="M504.8 306.2 L512.8 306.2 L515.8 307.8" fill="none" stroke="#a6a6a6" stroke-width="0.5"/>
<text x="500.10" y="316.40" font-size="5.0" fill="#606060" text-anchor="end" textLength="34.30" lengthAdjust="spacingAndGlyphs">R9B9A0VB0BA</text>
<text x="500.10" y="323.60" font-size="5.0" fill="#606060" text-anchor="end" textLength="27.10" lengthAdjust="spacingAndGlyphs">0M (1.76%)</text>
<path d="M502.0 318.2 L513.5 318.2" fill="none" stroke="#a6a6a6" stroke-width="0.5"/>
<text x="500.10" y="330.90" font-size="5.0" fill="#606060" text-anchor="end" textLength="35.10" lengthAdjust="spacingAndGlyphs">Z8E... 0M (1....)</text>
<path d="M502.8 329.3 L513.5 328.3" fill="none" stroke="#a6a6a6" stroke-width="0.5"/>
<text x="501.70" y="339.00" font-size="5.0" fill="#606060" text-anchor="end" textLength="35.50" lengthAdjust="spacingAndGlyphs">Z9A... 0M (1....)</text>
<path d="M504.3 336.9 L512.8 336.9 L515.1 334.6" fill="none" stroke="#a6a6a6" stroke-width="0.5"/>
<text x="505.80" y="346.20" font-size="5.0" fill="#606060" text-anchor="end" textLength="40.80" lengthAdjust="spacingAndGlyphs">Z86A5A9CARAS8</text>
<text x="505.80" y="353.40" font-size="5.0" fill="#606060" text-anchor="end" textLength="26.50" lengthAdjust="spacingAndGlyphs">0M (2.32%)</text>
<path d="M508.1 348.0 L515.8 348.0 L518.6 345.4" fill="none" stroke="#a6a6a6" stroke-width="0.5"/>
<text x="517.10" y="361.30" font-size="5.0" fill="#606060" text-anchor="end" textLength="31.30" lengthAdjust="spacingAndGlyphs">KX6S06R9R80</text>
<text x="517.10" y="368.50" font-size="5.0" fill="#606060" text-anchor="end" textLength="26.70" lengthAdjust="spacingAndGlyphs">0M (2.55%)</text>
<path d="M519.7 363.1 L525.9 363.1 L528.6 359.8" fill="none" stroke="#a6a6a6" stroke-width="0.5"/>
<text x="547.40" y="376.20" font-size="5.0" fill="#606060" text-anchor="end" textLength="39.30" lengthAdjust="spacingAndGlyphs">ZBS0S8R9A7A_8</text>
<text x="547.40" y="383.50" font-size="5.0" fill="#606060" text-anchor="end" textLength="26.85" lengthAdjust="spacingAndGlyphs">1M (4.24%)</text>
<path d="M549.4 378.2 L555.6 378.2 L556.4 372.7" fill="none" stroke="#a6a6a6" stroke-width="0.5"/>
<text x="602.70" y="273.50" font-size="5.0" fill="#606060" textLength="33.30" lengthAdjust="spacingAndGlyphs">Z5ESR4RBTSC</text>
<text x="602.70" y="280.70" font-size="5.0" fill="#606060" textLength="30.60" lengthAdjust="spacingAndGlyphs">3M (17.81%)</text>
<path d="M600.8 274.8 L594.7 274.8 L591.2 279.3" fill="none" stroke="#a6a6a6" stroke-width="0.5"/>
<text x="625.90" y="339.30" font-size="5.0" fill="#606060" textLength="40.80" lengthAdjust="spacingAndGlyphs">ZSA789SS6ARR...</text>
<text x="625.90" y="346.50" font-size="5.0" fill="#606060" textLength="26.85" lengthAdjust="spacingAndGlyphs">2M (16.5...)</text>
<path d="M623.5 340.1 L616.0 340.1 L613.3 337.5" fill="none" stroke="#a6a6a6" stroke-width="0.5"/>
<text x="598.70" y="370.80" font-size="5.0" fill="#606060" textLength="38.60" lengthAdjust="spacingAndGlyphs">ZMS06R9RG7R4</text>
<text x="598.70" y="378.00" font-size="5.0" fill="#606060" textLength="30.60" lengthAdjust="spacingAndGlyphs">2M (15.97%)</text>
<path d="M596.5 372.1 L590.7 372.1 L588.0 367.3" fill="none" stroke="#a6a6a6" stroke-width="0.5"/>
</svg>
</div></body></html>
